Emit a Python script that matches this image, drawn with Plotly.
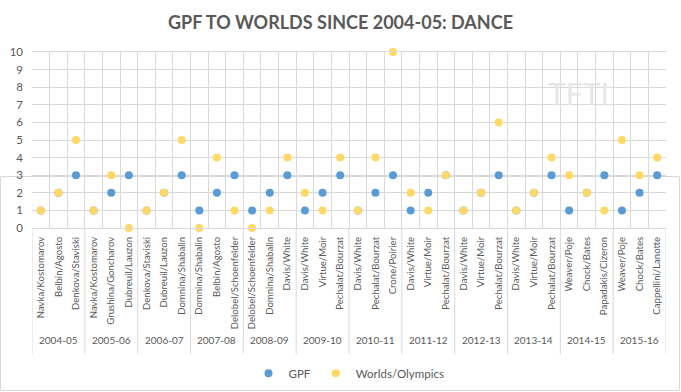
import plotly.graph_objects as go

seasons = ["2004-05", "2005-06", "2006-07", "2007-08", "2008-09", "2009-10",
           "2010-11", "2011-12", "2012-13", "2013-14", "2014-15", "2015-16"]
teams = [
    ["Navka/Kostomarov", "Belbin/Agosto", "Denkova/Staviski"],
    ["Navka/Kostomarov", "Grushina/Goncharov", "Dubreuil/Lauzon"],
    ["Denkova/Staviski", "Dubreuil/Lauzon", "Domnina/Shabalin"],
    ["Domnina/Shabalin", "Belbin/Agosto", "Delobel/Schoenfelder"],
    ["Delobel/Schoenfelder", "Domnina/Shabalin", "Davis/White"],
    ["Davis/White", "Virtue/Moir", "Pechalat/Bourzat"],
    ["Davis/White", "Pechalat/Bourzat", "Crone/Poirier"],
    ["Davis/White", "Virtue/Moir", "Pechalat/Bourzat"],
    ["Davis/White", "Virtue/Moir", "Pechalat/Bourzat"],
    ["Davis/White", "Virtue/Moir", "Pechalat/Bourzat"],
    ["Weaver/Poje", "Chock/Bates", "Papadakis/Cizeron"],
    ["Weaver/Poje", "Chock/Bates", "Cappellini/Lanotte"],
]
gpf = [1, 2, 3, 1, 2, 3, 1, 2, 3, 1, 2, 3, 1, 2, 3, 1, 2, 3,
       1, 2, 3, 1, 2, 3, 1, 2, 3, 1, 2, 3, 1, 2, 3, 1, 2, 3]
worlds = [1, 2, 5, 1, 3, 0, 1, 2, 5, 0, 4, 1, 0, 1, 4, 2, 1, 4,
          1, 4, 10, 2, 1, 3, 1, 2, 6, 1, 2, 4, 3, 2, 1, 5, 3, 4]

inner = [t for ts in teams for t in ts]
n = len(inner)
xs = list(range(n))

FONT = "Lato"
GRAY = "#595959"
GRID = "#d9d9d9"
W, H = 681, 392
ML, MR, MT, MB = 32, 15, 52, 164
PW, PH = W - ML - MR, H - MT - MB

fig = go.Figure()
fig.add_trace(go.Scatter(x=xs, y=gpf, mode="markers", name="GPF",
                         marker=dict(color="#5B9BD5", size=8), cliponaxis=False))
fig.add_trace(go.Scatter(x=xs, y=worlds, mode="markers", name="Worlds/Olympics",
                         marker=dict(color="#FFD966", size=8), cliponaxis=False))

fig.update_layout(
    width=W, height=H,
    margin=dict(l=ML, r=MR, t=MT, b=MB, autoexpand=False),
    paper_bgcolor="white", plot_bgcolor="white",
    font=dict(family=FONT, color=GRAY, size=10),
    title=dict(text="<b>GPF TO WORLDS SINCE 2004-05: DANCE</b>", x=0.5, xanchor="center",
               y=0.942, yanchor="middle", font=dict(size=18, color=GRAY, family=FONT)),
    showlegend=True,
    legend=dict(orientation="h", x=0.5, xanchor="center", yref="container", y=0.048,
                yanchor="middle", font=dict(size=11.5, color=GRAY), itemwidth=30),
    xaxis=dict(range=[-0.5, n - 0.5], tickmode="array", tickvals=xs, ticktext=inner,
               tickangle=-90, showgrid=False, zeroline=False,
               showline=True, linecolor=GRID, ticks="", mirror=True,
               tickfont=dict(size=9.6, color=GRAY), automargin=False,
               ticklabelstandoff=4,
               minor=dict(tickmode="array", tickvals=[i - 0.5 for i in range(n + 1)],
                          showgrid=True, gridcolor=GRID, ticks="")),
    yaxis=dict(range=[0, 10], dtick=1, showgrid=True, gridcolor=GRID, zeroline=False,
               showline=False, tickfont=dict(size=11.5, color=GRAY), ticks="",
               automargin=False, ticklabelstandoff=8),
)

# season group labels and dividers below the axis
div_bottom = -(354 - (MT + PH)) / PH
lab_y = -(348 - (MT + PH)) / PH
pos = 0
for s, ts in zip(seasons, teams):
    fig.add_shape(type="line", xref="x", yref="paper", x0=pos - 0.5, x1=pos - 0.5,
                  y0=0, y1=div_bottom, line=dict(color=GRID, width=1))
    fig.add_annotation(text=s, xref="x", yref="paper", x=pos + (len(ts) - 1) / 2, y=lab_y,
                       showarrow=False, font=dict(size=10, color=GRAY, family=FONT))
    pos += len(ts)
fig.add_shape(type="line", xref="x", yref="paper", x0=pos - 0.5, x1=pos - 0.5,
              y0=0, y1=div_bottom, line=dict(color=GRID, width=1))

# chart-area border
fig.add_shape(type="rect", xref="paper", yref="paper",
              x0=(0.5 - ML) / PW, x1=(W - 1.5 - ML) / PW,
              y0=-(H - 1.5 - MT - PH) / PH, y1=(MT - 0.5) / PH,
              line=dict(color=GRID, width=1), layer="below")

fig.add_annotation(text="TFTI", xref="paper", yref="paper", x=0.913, y=0.88,
                   showarrow=False, font=dict(size=30, color="#e6e6e6", family=FONT))
fig.write_html("out.html", post_script="document.body.style.margin='0';",
               config={"displayModeBar": False})
